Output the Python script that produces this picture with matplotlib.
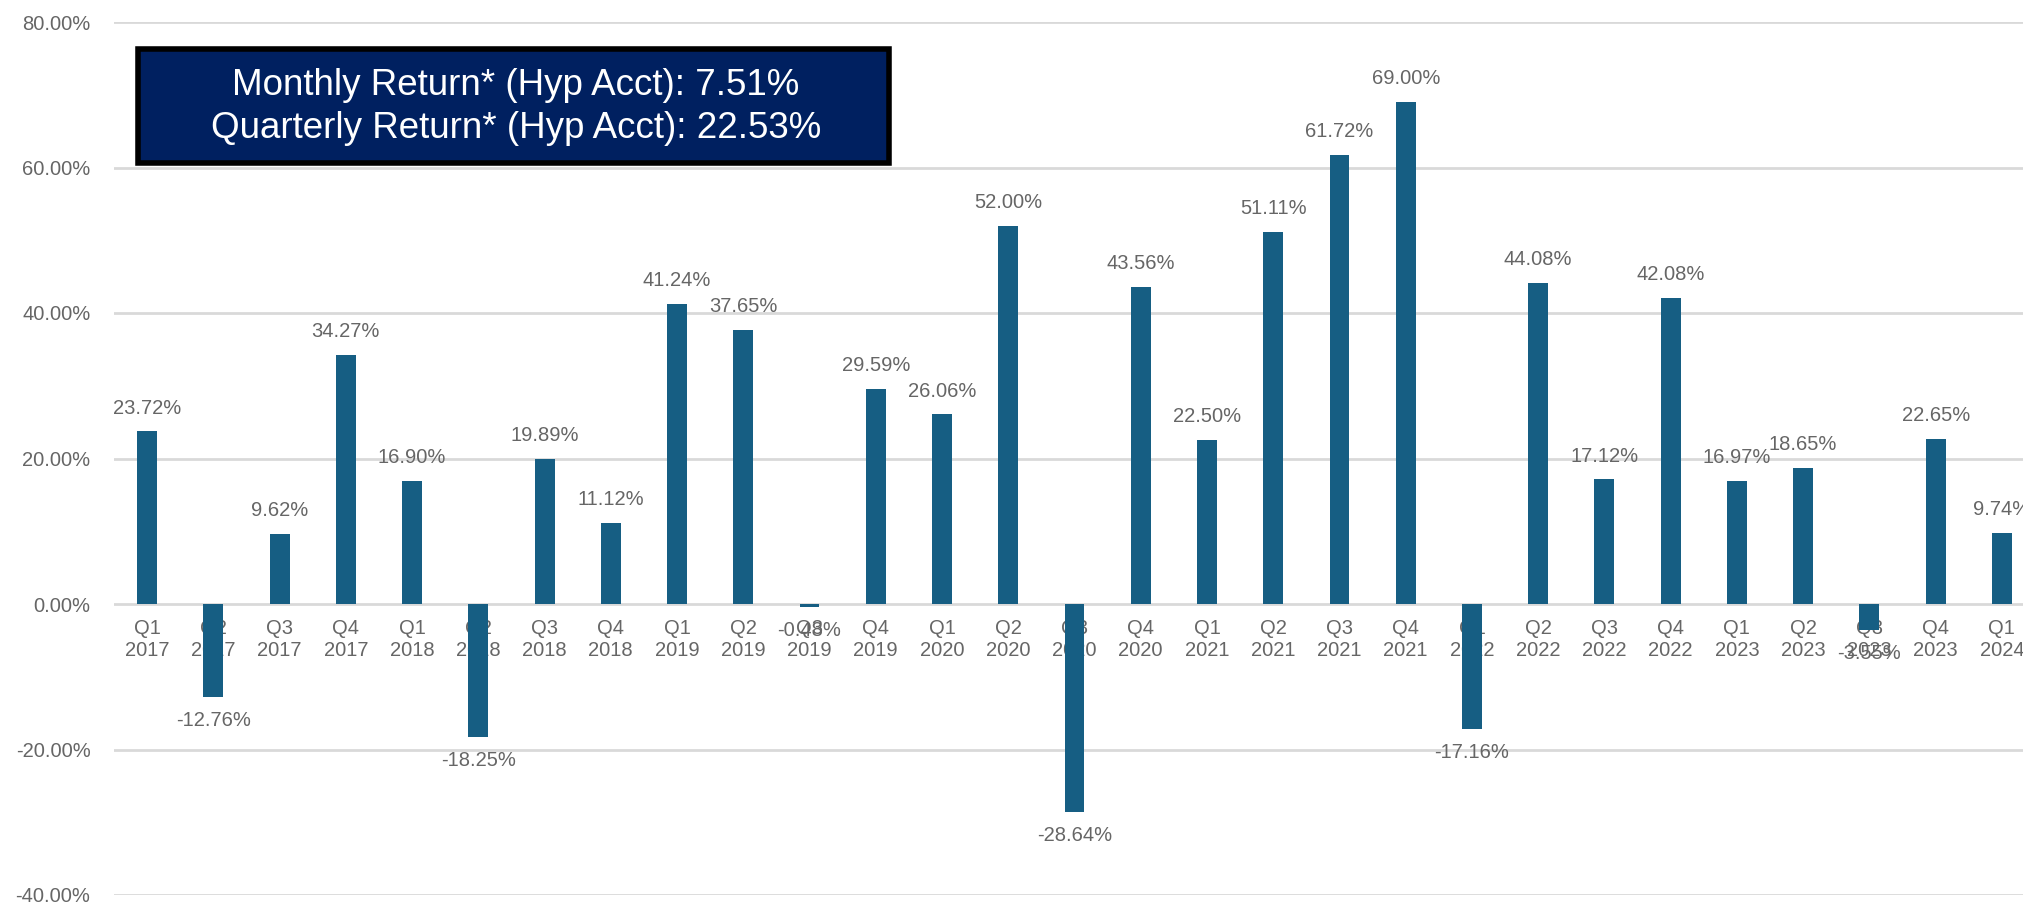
import matplotlib.pyplot as plt
from matplotlib.patches import Rectangle
from matplotlib.ticker import FuncFormatter

plt.rcParams['font.family'] = ['Liberation Sans', 'DejaVu Sans']

quarters = ['Q1', 'Q2', 'Q3', 'Q4'] * 7 + ['Q1']
years = [str(y) for y in range(2017, 2024) for _ in range(4)] + ['2024']
returns = [23.72, -12.76, 9.62, 34.27,
           16.90, -18.25, 19.89, 11.12,
           41.24, 37.65, -0.48, 29.59,
           26.06, 52.00, -28.64, 43.56,
           22.50, 51.11, 61.72, 69.00,
           -17.16, 44.08, 17.12, 42.08,
           16.97, 18.65, -3.55, 22.65,
           9.74]
box_lines = ['Monthly Return* (Hyp Acct): 7.51%',
             'Quarterly Return* (Hyp Acct): 22.53%']

bar_color = '#165E83'
text_grey = '#666666'
W, H = 2023, 914

fig = plt.figure(figsize=(W / 100, H / 100), dpi=100)
ax = fig.add_axes([114 / W, 19 / H, 1921 / W, 873 / H])

x = list(range(len(returns)))
ax.bar(x, returns, width=0.3, color=bar_color, zorder=3)

for xi, v in zip(x, returns):
    if v >= 0:
        ax.annotate(f'{v:.2f}%', (xi, v), xytext=(0, 10), textcoords='offset points',
                    ha='center', va='bottom', fontsize=14.5, color=text_grey)
    else:
        ax.annotate(f'{v:.2f}%', (xi, v), xytext=(0, -10), textcoords='offset points',
                    ha='center', va='top', fontsize=14.5, color=text_grey)

ax.set_xlim(-0.5, len(returns) - 0.5)
ax.set_ylim(-40, 80)
ax.set_yticks([-40, -20, 0, 20, 40, 60, 80])
ax.yaxis.set_major_formatter(FuncFormatter(lambda v, p: f'{v:.2f}%'))
ax.set_xticks(x)
ax.set_xticklabels([f'{q}\n{y}' for q, y in zip(quarters, years)], linespacing=1.25)
ax.tick_params(axis='y', length=0, pad=17, labelsize=14.5, labelcolor=text_grey)
ax.tick_params(axis='x', length=0, pad=11, labelsize=14.5, labelcolor=text_grey)
ax.grid(axis='y', color='#d9d9d9', linewidth=2, zorder=0)
ax.set_axisbelow(True)
for s in ax.spines.values():
    s.set_color('none')
# category labels sit on the zero line
ax.spines['bottom'].set_position(('data', 0))

# summary box
fig.patches.append(Rectangle((138 / W, 1 - 163 / H), (889 - 138) / W, (163 - 49) / H,
                             transform=fig.transFigure, facecolor='#002060',
                             edgecolor='black', linewidth=4, zorder=5))
fig.text(516 / W, 1 - 107 / H, '\n'.join(box_lines), ha='center', va='center',
         color='white', fontsize=26.5, linespacing=1.3, zorder=6)

fig.savefig('out.png', dpi=100)
